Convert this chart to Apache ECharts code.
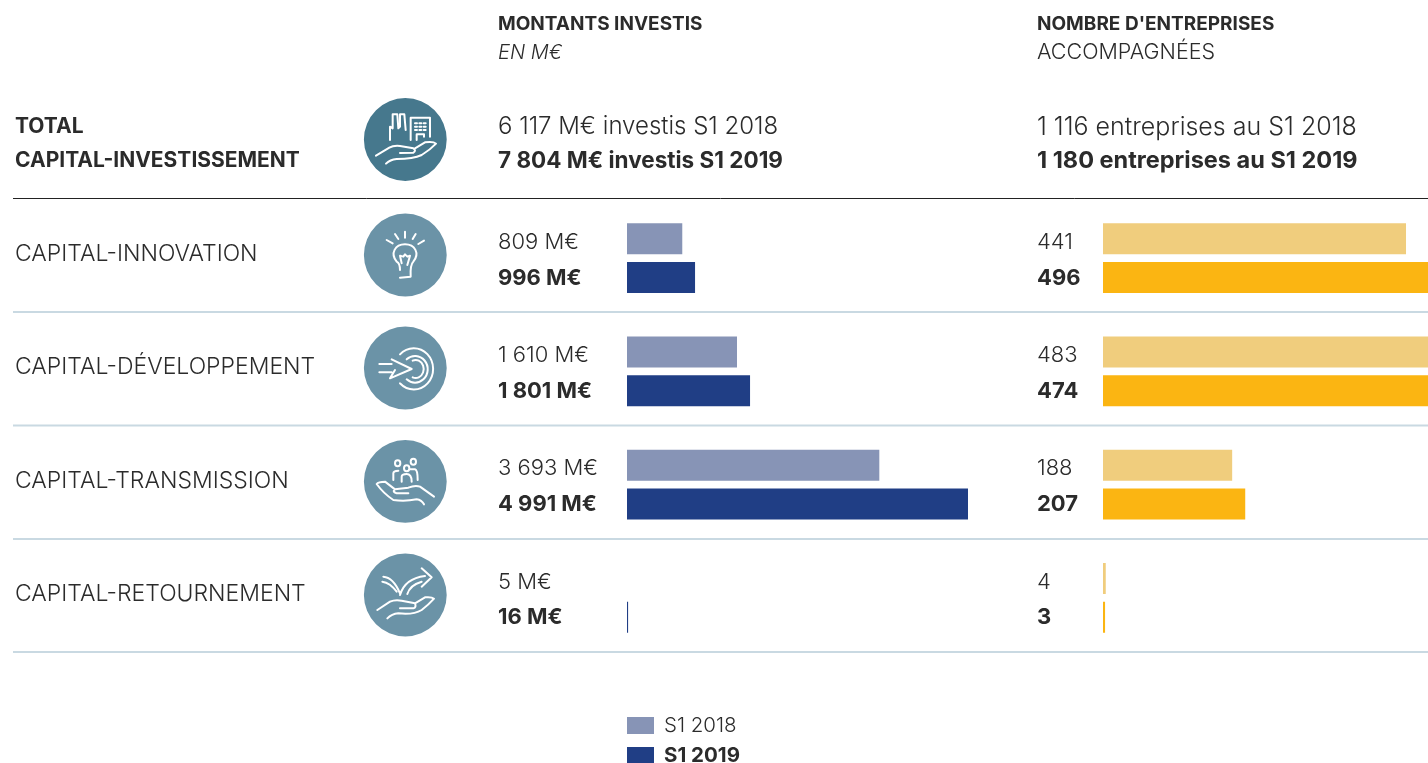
<!DOCTYPE html>
<html>
<head>
<meta charset="utf-8">
<script src="https://cdn.jsdelivr.net/npm/echarts@6/dist/echarts.min.js"></script>
<style>
	html, body { margin: 0; padding: 0; background: #fff; overflow: hidden; }
	#chart { width: 1428px; height: 763px; }
</style>
</head>
<body>
<div id="chart"></div>
<script>
var categories = ["CAPITAL-INNOVATION", "CAPITAL-DÉVELOPPEMENT", "CAPITAL-TRANSMISSION", "CAPITAL-RETOURNEMENT"];
var montants2018 = [809, 1610, 3693, 5];
var montants2019 = [996, 1801, 4991, 16];
var entreprises2018 = [441, 483, 188, 4];
var entreprises2019 = [496, 474, 207, 3];
var legendNames = ["S1 2018", "S1 2019"];

var font = "Inter";
var dark = "#2b2b2b";

var iconTotal = "M78 212L118 188Q130 181 150 183L190 190Q200 196 190 203L150 204M195 190L225 172Q250 168 258 176Q240 195 215 210Q190 222 140 222Q120 224 108 236M120 165V125L128 130V88H142L145 130L150 125V88H163L167 135M182 165V98H240V155M200 165V148H222V155M195 115h6M208 115h6M221 115h6M195 125h6M208 125h6M221 125h6M195 135h6M208 135h6M221 135h6";
var iconBulb = "M110 465L128 475M135 447L145 462M165 440V458M197 447L188 462M222 467L205 477M150 555Q150 535 140 530C120 505 135 478 165 478C195 478 210 505 190 530Q180 540 182 575L150 578M155 535L150 512L160 515L165 508L172 515L180 512L172 540";
var iconTarget = "M150 103A58 62 0 1 1 150 190M170 118A38 40 0 1 1 170 178M188 122A24 27 0 1 1 188 172M88 132H125M88 157H125M125 118L185 147L120 175L135 150";
var iconPeople = "M135 430a8 9 0 1 0 16 0a8 9 0 1 0 -16 0M162 445a8 9 0 1 0 16 0a8 9 0 1 0 -16 0M182 425a8 9 0 1 0 16 0a8 9 0 1 0 -16 0M130 480V460Q130 452 145 452M155 485V470Q155 462 170 462Q185 462 185 485M178 448H195Q203 450 203 480M252 530L210 500Q195 495 175 503L135 508Q125 515 140 520H175M135 508L105 485Q85 485 80 492Q100 520 130 540Q165 545 200 538Q215 540 222 553";
var iconTurn = "M82 870L120 845Q135 838 155 842L195 850Q200 862 190 865H150M195 850L225 832Q245 830 252 836Q235 855 215 870Q190 885 145 880Q125 882 112 895M100 770Q130 772 150 820M97 785Q120 788 140 815M150 825Q165 775 225 768M172 822Q180 795 215 785M215 745L245 772L215 800";
var icons = [
	[iconTotal, 85],
	[iconBulb, 85],
	[iconTarget, 320],
	[iconPeople, 320],
	[iconTurn, 320]
];

function fmt(v) {
	return String(v).replace(/\B(?=(\d{3})+$)/g, " ");
}

function text(x, y, str, size, weight, style) {
	return {
		type: "text", x: x, y: y, silent: true,
		style: {
			text: str, fill: dark, fontFamily: font, fontSize: size,
			fontWeight: weight || 300, fontStyle: style || "normal",
			verticalAlign: "middle", align: "left"
		}
	};
}

function rule(y, color, w) {
	return {
		type: "line", silent: true,
		shape: { x1: 13, y1: y, x2: 1428, y2: y },
		style: { stroke: color, lineWidth: w }
	};
}

function circle(cy, color) {
	return {
		type: "circle", silent: true,
		shape: { cx: 405.3, cy: cy, r: 41.4 },
		style: { fill: color }
	};
}

function barSeries(name, data, color, idx, labelX, labelDy, bold, suffix) {
	return {
		type: "bar", name: name, data: data, xAxisIndex: idx, yAxisIndex: idx,
		barWidth: 31, barGap: "25%",
		itemStyle: {
			// the 5 M€ bar is under half a pixel wide and does not show in the original
			color: function (p) { return p.value === 5 ? "transparent" : color; }
		},
		label: {
			show: true, position: [labelX, labelDy], align: "left", verticalAlign: "middle",
			fontFamily: font, fontSize: 22, fontWeight: bold ? 700 : 300, color: dark,
			formatter: function (p) { return fmt(p.value) + suffix; }
		}
	};
}

var chart = echarts.init(document.getElementById("chart"));

chart.setOption({
	animation: false,
	backgroundColor: "#fff",
	legend: {
		left: 627, top: 715, height: 60, padding: 0, orient: "vertical", itemWidth: 27, itemHeight: 17, itemGap: 9,
		selectedMode: false, itemStyle: { borderWidth: 0, color: "inherit" },
		textStyle: { fontFamily: font, fontSize: 20.5, lineHeight: 17, color: dark, fontWeight: 300, padding: [0, 0, 0, 5] },
		data: [
			{ name: legendNames[0], icon: "rect", itemStyle: { color: "#8794b6" } },
			{ name: legendNames[1], icon: "rect", itemStyle: { color: "#203e85" }, textStyle: { fontWeight: 700 } }
		]
	},
	grid: [
		{ left: 627, top: 201.5, width: 341, height: 453 },
		// the right panel runs off the page in the original, the axis stops at the page edge
		{ left: 1103, top: 201.5, width: 325, height: 453 }
	],
	xAxis: [
		{ gridIndex: 0, type: "value", min: 0, max: 4991, show: false },
		{ gridIndex: 1, type: "value", min: 0, max: 473, show: false }
	],
	yAxis: [
		{
			gridIndex: 0, type: "category", inverse: true, data: categories,
			axisLine: { show: false }, axisTick: { show: false },
			axisLabel: {
				margin: 612, align: "left", verticalAlign: "bottom", lineHeight: 8,
				fontFamily: font, fontSize: 23, fontWeight: 300, color: dark
			}
		},
		{ gridIndex: 1, type: "category", inverse: true, data: categories, show: false }
	],
	series: [
		barSeries(legendNames[0], montants2018, "#8794b6", 0, -129, 19, false, " M€"),
		barSeries(legendNames[1], montants2019, "#203e85", 0, -129, 16, true, " M€"),
		barSeries(legendNames[0], entreprises2018, "#f0cd7d", 1, -66, 19, false, ""),
		barSeries(legendNames[1], entreprises2019, "#fbb512", 1, -66, 16, true, ""),
		{
			type: "custom", coordinateSystem: "none", silent: true, data: [0, 1, 2, 3, 4],
			renderItem: function (params) {
				var ic = icons[params.dataIndex];
				return {
					type: "path", x: 350, y: ic[1], scaleX: 1 / 3, scaleY: 1 / 3,
					shape: { pathData: ic[0] },
					style: { fill: null, stroke: "#fff", lineWidth: 6, lineCap: "round", lineJoin: "round" }
				};
			}
		}
	],
	graphic: [
		text(498, 24, "MONTANTS INVESTIS", 19, 700),
		text(498, 53, "EN M€", 20, 300, "italic"),
		text(1037, 24, "NOMBRE D'ENTREPRISES", 19, 700),
		text(1037, 53, "ACCOMPAGNÉES", 21.5, 300),
		text(15, 127, "TOTAL", 21, 700),
		text(15, 161, "CAPITAL-INVESTISSEMENT", 21, 700),
		text(498, 127, "6 117 M€ investis S1 2018", 24, 300),
		text(498, 161, "7 804 M€ investis S1 2019", 22.5, 700),
		text(1037, 127, "1 116 entreprises au S1 2018", 25, 300),
		text(1037, 161, "1 180 entreprises au S1 2019", 23.5, 700),
		rule(198.5, "#222", 1),
		rule(312, "#c9d9e2", 2),
		rule(425.5, "#c9d9e2", 2),
		rule(539, "#c9d9e2", 2),
		rule(652, "#c9d9e2", 2),
		circle(139.5, "#46788d"),
		circle(255, "#6b93a7"),
		circle(368, "#6b93a7"),
		circle(481.4, "#6b93a7"),
		circle(595, "#6b93a7")
	]
});
</script>
</body>
</html>
